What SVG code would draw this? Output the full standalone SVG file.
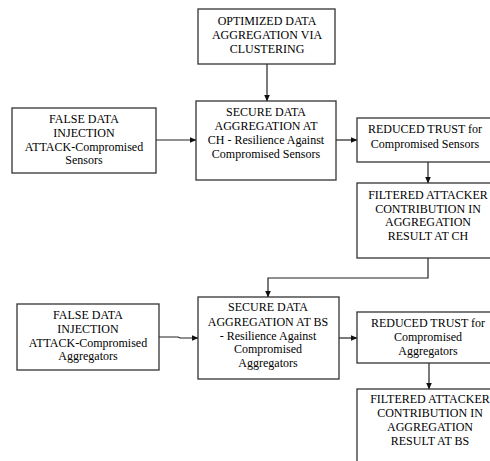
<svg xmlns="http://www.w3.org/2000/svg" width="490" height="461" viewBox="0 0 490 461">
<defs>
<marker id="ah" markerWidth="7" markerHeight="6" refX="6.5" refY="3" orient="auto" markerUnits="userSpaceOnUse">
<path d="M0,0 L7,3 L0,6 Z" fill="#111"/>
</marker>
</defs>
<rect width="490" height="461" fill="#fff"/>
<g id="connectors" fill="none" stroke="#222" stroke-width="1.2">
<path d="M267,64 V101" marker-end="url(#ah)"/>
<path d="M156,140 H196" marker-end="url(#ah)"/>
<path d="M336,140 H357" marker-end="url(#ah)"/>
<path d="M428,162 V183" marker-end="url(#ah)"/>
<path d="M428,258 V278 H268 V297" marker-end="url(#ah)"/>
<path d="M159,337 H178 L180,338 H198" marker-end="url(#ah)"/>
<path d="M339,338 H357" marker-end="url(#ah)"/>
<path d="M429,363 V389" marker-end="url(#ah)"/>
</g>
<g fill="#fff" stroke="#333" stroke-width="1.3">
<rect id="r_optimized" x="198" y="9" width="137" height="55"/>
<rect id="r_false_ch" x="12" y="108" width="144" height="65"/>
<rect id="r_secure_ch" x="196" y="101" width="140" height="79"/>
<rect id="r_reduced_ch" x="357" y="118" width="140" height="44"/>
<rect id="r_filtered_ch" x="357" y="183" width="145" height="75"/>
<rect id="r_false_bs" x="17" y="304" width="142" height="66"/>
<rect id="r_secure_bs" x="198" y="297" width="141" height="82"/>
<rect id="r_reduced_bs" x="357" y="312" width="145" height="51"/>
<rect id="r_filtered_bs" x="357" y="389" width="146" height="80"/>
</g>
<g id="n_optimized">
<text font-family="Liberation Serif" font-size="12" text-anchor="middle" x="267" y="25">OPTIMIZED DATA</text>
<text font-family="Liberation Serif" font-size="12" text-anchor="middle" x="267" y="39">AGGREGATION VIA</text>
<text font-family="Liberation Serif" font-size="12" text-anchor="middle" x="267" y="53">CLUSTERING</text>
</g>
<g id="n_false_ch">
<text font-family="Liberation Serif" font-size="12" text-anchor="middle" x="84" y="123">FALSE DATA</text>
<text font-family="Liberation Serif" font-size="12" text-anchor="middle" x="84" y="137">INJECTION</text>
<text font-family="Liberation Serif" font-size="12" text-anchor="middle" x="84" y="151">ATTACK-Compromised</text>
<text font-family="Liberation Serif" font-size="12" text-anchor="middle" x="84" y="164">Sensors</text>
</g>
<g id="n_secure_ch">
<text font-family="Liberation Serif" font-size="12" text-anchor="middle" x="266" y="116">SECURE DATA</text>
<text font-family="Liberation Serif" font-size="12" text-anchor="middle" x="266" y="130">AGGREGATION AT</text>
<text font-family="Liberation Serif" font-size="12" text-anchor="middle" x="266" y="144">CH - Resilience Against</text>
<text font-family="Liberation Serif" font-size="12" text-anchor="middle" x="266" y="158">Compromised Sensors</text>
</g>
<g id="n_reduced_ch">
<text font-family="Liberation Serif" font-size="12" text-anchor="middle" x="425" y="133">REDUCED TRUST for</text>
<text font-family="Liberation Serif" font-size="12" text-anchor="middle" x="425" y="148">Compromised Sensors</text>
</g>
<g id="n_filtered_ch">
<text font-family="Liberation Serif" font-size="12" text-anchor="middle" x="428" y="199">FILTERED ATTACKER</text>
<text font-family="Liberation Serif" font-size="12" text-anchor="middle" x="428" y="213">CONTRIBUTION IN</text>
<text font-family="Liberation Serif" font-size="12" text-anchor="middle" x="428" y="226">AGGREGATION</text>
<text font-family="Liberation Serif" font-size="12" text-anchor="middle" x="428" y="240">RESULT AT CH</text>
</g>
<g id="n_false_bs">
<text font-family="Liberation Serif" font-size="12" text-anchor="middle" x="88" y="319">FALSE DATA</text>
<text font-family="Liberation Serif" font-size="12" text-anchor="middle" x="88" y="333">INJECTION</text>
<text font-family="Liberation Serif" font-size="12" text-anchor="middle" x="88" y="347">ATTACK-Compromised</text>
<text font-family="Liberation Serif" font-size="12" text-anchor="middle" x="88" y="360">Aggregators</text>
</g>
<g id="n_secure_bs">
<text font-family="Liberation Serif" font-size="12" text-anchor="middle" x="268" y="311">SECURE DATA</text>
<text font-family="Liberation Serif" font-size="12" text-anchor="middle" x="268" y="326">AGGREGATION AT BS</text>
<text font-family="Liberation Serif" font-size="12" text-anchor="middle" x="268" y="340">- Resilience Against</text>
<text font-family="Liberation Serif" font-size="12" text-anchor="middle" x="268" y="353">Compromised</text>
<text font-family="Liberation Serif" font-size="12" text-anchor="middle" x="268" y="367">Aggregators</text>
</g>
<g id="n_reduced_bs">
<text font-family="Liberation Serif" font-size="12" text-anchor="middle" x="428" y="327">REDUCED TRUST for</text>
<text font-family="Liberation Serif" font-size="12" text-anchor="middle" x="428" y="341">Compromised</text>
<text font-family="Liberation Serif" font-size="12" text-anchor="middle" x="428" y="355">Aggregators</text>
</g>
<g id="n_filtered_bs">
<text font-family="Liberation Serif" font-size="12" text-anchor="middle" x="430" y="403">FILTERED ATTACKER</text>
<text font-family="Liberation Serif" font-size="12" text-anchor="middle" x="430" y="417">CONTRIBUTION IN</text>
<text font-family="Liberation Serif" font-size="12" text-anchor="middle" x="430" y="431">AGGREGATION</text>
<text font-family="Liberation Serif" font-size="12" text-anchor="middle" x="430" y="445">RESULT AT BS</text>
</g>
</svg>
